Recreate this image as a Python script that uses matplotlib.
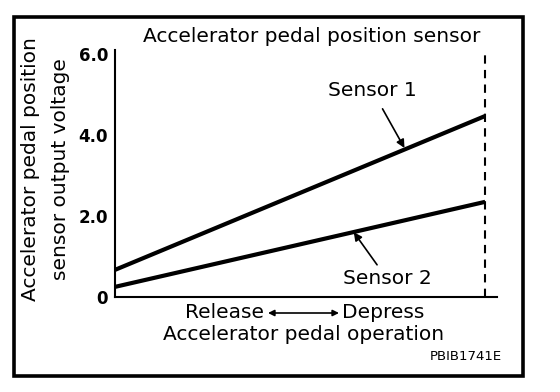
import matplotlib
matplotlib.use("Agg")
import matplotlib.pyplot as plt
from matplotlib.patches import Rectangle, FancyArrowPatch

plt.rcParams['font.family'] = ['DejaVu Sans']

# Data
pedal = [0.0, 1.0]
sensor1 = [0.67, 4.47]
sensor2 = [0.25, 2.35]
yticks = [0, 2.0, 4.0, 6.0]
yticklabels = ["0", "2.0", "4.0", "6.0"]

W, H = 560, 392
fig = plt.figure(figsize=(W / 100, H / 100), dpi=100)

def fx(px):
    return px / W

def fy(py):
    return 1 - py / H

FS = 14.5

# Outer frame
fig.patches.append(Rectangle((fx(14), fy(376)), fx(523) - fx(14), fy(17) - fy(376),
                             transform=fig.transFigure, fill=False, lw=2.6, ec='black'))

ax = fig.add_axes([fx(115), fy(297), fx(497) - fx(115), fy(50) - fy(297)])
ax.plot(pedal, sensor1, color='black', lw=3.0, solid_capstyle='butt')
ax.plot(pedal, sensor2, color='black', lw=3.0, solid_capstyle='butt')
ax.axvline(1.0, color='black', lw=1.5, ls=(0, (4, 3)))
ax.set_xlim(0, 1.032)
ax.set_ylim(0, 6.1)
ax.set_yticks(yticks)
ax.set_yticklabels(yticklabels, fontsize=12, fontweight='bold')
ax.set_xticks([])
ax.tick_params(axis='y', length=0, pad=5)
for s in ['top', 'right']:
    ax.spines[s].set_visible(False)
for s in ['left', 'bottom']:
    ax.spines[s].set_linewidth(1.5)

# Annotations
ax.annotate("Sensor 1", xy=(0.782, 3.68), xytext=(0.695, 5.1),
            fontsize=FS, ha='center', va='center',
            arrowprops=dict(arrowstyle='-|>', color='black', lw=1.2,
                            mutation_scale=12, shrinkA=5, shrinkB=0))
ax.annotate("Sensor 2", xy=(0.645, 1.6), xytext=(0.735, 0.45),
            fontsize=FS, ha='center', va='center',
            arrowprops=dict(arrowstyle='-|>', color='black', lw=1.2,
                            mutation_scale=12, shrinkA=1.5, shrinkB=0))

# Titles and labels
fig.text(fx(312), fy(36), "Accelerator pedal position sensor", fontsize=FS,
         ha='center', va='center')
fig.text(fx(31), fy(169), "Accelerator pedal position", fontsize=FS,
         rotation=90, ha='center', va='center')
fig.text(fx(60), fy(169), "sensor output voltage", fontsize=FS,
         rotation=90, ha='center', va='center')
fig.text(fx(264), fy(312), "Release", fontsize=FS, ha='right', va='center')
fig.text(fx(342), fy(312), "Depress", fontsize=FS, ha='left', va='center')
fig.patches.append(FancyArrowPatch((fx(268), fy(313)), (fx(339), fy(313)),
                                   transform=fig.transFigure, arrowstyle='<|-|>',
                                   mutation_scale=9, lw=1.2, color='black',
                                   shrinkA=0, shrinkB=0))
fig.text(fx(304), fy(334), "Accelerator pedal operation", fontsize=FS,
         ha='center', va='center')
fig.text(fx(502), fy(356), "PBIB1741E", fontsize=9.5, ha='right', va='center')

fig.savefig("out.png", dpi=100)
